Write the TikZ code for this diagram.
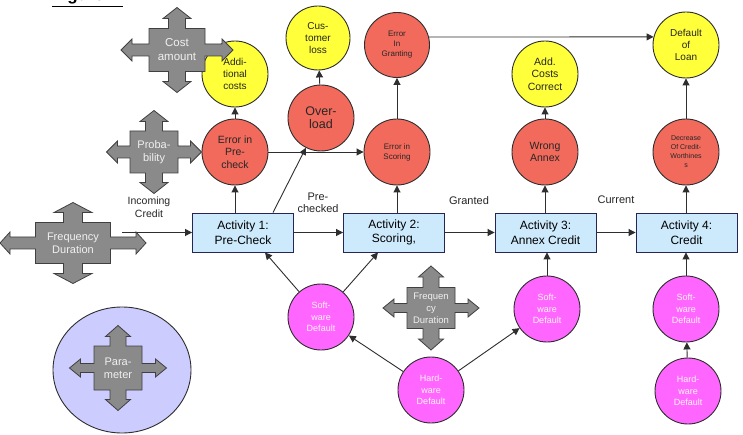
\documentclass[tikz,border=0pt]{standalone}
\usepackage{fontspec}
\setmainfont{Liberation Sans}
\usetikzlibrary{arrows.meta,shapes.geometric}
\definecolor{redc}{HTML}{F26A5C}
\definecolor{yelc}{HTML}{FFFF3A}
\definecolor{pinkc}{HTML}{FF66FF}
\definecolor{boxc}{HTML}{CDEAFC}
\definecolor{lavc}{HTML}{CCCCFF}
\definecolor{fwc}{HTML}{8A8A8A}
\definecolor{linec}{HTML}{2E2E2E}
\newcommand\fs[2]{\fontsize{#1}{#2}\selectfont}
% shaft / head half widths (vertical, horizontal) and head length
\def\fwsv{8.5}\def\fwhv{14}\def\fwsh{6}\def\fwhh{11}\def\fwhl{11}
\newcommand\fourway[9]{%
  \begin{scope}[shift={(#2,#3)}]
  \draw[fwshape] (0,-#7) -- (\fwhv,{-#7+\fwhl}) -- (\fwsv,{-#7+\fwhl}) -- (\fwsv,-#5) -- (#4,-#5) -- (#4,-\fwsh)
    -- ({#6-\fwhl},-\fwsh) -- ({#6-\fwhl},-\fwhh) -- (#6,0) -- ({#6-\fwhl},\fwhh) -- ({#6-\fwhl},\fwsh) -- (#4,\fwsh)
    -- (#4,#5) -- (\fwsv,#5) -- (\fwsv,{#7-\fwhl}) -- (\fwhv,{#7-\fwhl}) -- (0,#7) -- (-\fwhv,{#7-\fwhl})
    -- (-\fwsv,{#7-\fwhl}) -- (-\fwsv,#5) -- (-#4,#5) -- (-#4,\fwsh) -- ({-#6+\fwhl},\fwsh) -- ({-#6+\fwhl},\fwhh)
    -- (-#6,0) -- ({-#6+\fwhl},-\fwhh) -- ({-#6+\fwhl},-\fwsh) -- (-#4,-\fwsh) -- (-#4,-#5) -- (-\fwsv,-#5)
    -- (-\fwsv,{-#7+\fwhl}) -- (-\fwhv,{-#7+\fwhl}) -- cycle;
  \end{scope}
  \node[fwtext,font=#8] (#1) at (#2,#3) {#9};}
\begin{document}
\begin{tikzpicture}[x=1pt,y=-1pt,
  circ/.style={circle,draw=linec,line width=0.9pt,minimum size=66pt,inner sep=0pt,align=center,text=black!85},
  redn/.style={circ,fill=redc},
  yeln/.style={circ,fill=yelc},
  pinkn/.style={circ,fill=pinkc,text=white!85!pink,font=\fs{9}{11.7}},
  act/.style={draw=linec!80!blue,line width=0.9pt,fill=boxc,minimum width=101pt,minimum height=39pt,align=center,font=\fs{12}{14.5},inner sep=1pt},
  arr/.style={draw=linec,line width=0.9pt,-{Triangle[length=7pt,width=7pt]}},
  fwshape/.style={fill=fwc,draw=black!75,line width=0.8pt},
  fwtext/.style={align=center,text=white!88!gray,inner sep=0pt},
  lbl/.style={align=center,font=\fs{10.5}{12.5},text=black!85}]
\clip (0,0) rectangle (743,435);
\fill[white] (0,0) rectangle (743,435);
% title
\node[anchor=base west,inner sep=0pt,font=\fs{17}{20}\bfseries] (title) at (52,1) {\underline{Figure 2.}};
% activity boxes
\node[act] (act1) at (243,232.5) {Activity 1:\\Pre-Check};
\node[act] (act2) at (394,232.5) {Activity 2:\\Scoring,};
\node[act] (act3) at (545.5,232.5) {Activity 3:\\Annex Credit};
\node[act] (act4) at (686.5,232.5) {Activity 4:\\Credit};
% circles
\node[yeln,font=\fs{10}{12}] (addc) at (235,74) {Addi-\\tional\\costs};
\node[redn,font=\fs{10.5}{12.5}] (err1) at (235,152) {Error in\\Pre-\\check};
\node[redn,font=\fs{12.5}{13}] (over) at (321,118) {Over-\\load};
\node[yeln,font=\fs{10}{12},minimum size=64pt] (cust) at (318,38) {Cus-\\tomer\\loss};
\node[redn,font=\fs{8}{10},minimum size=65pt] (gran) at (397,45) {Error\\In\\Granting};
\node[redn,font=\fs{8}{10}] (scor) at (397,152) {Error in\\Scoring};
\node[yeln,font=\fs{10.5}{12.3}] (addcc) at (545,74) {Add.\\Costs\\Correct};
\node[redn,font=\fs{10.5}{12.3}] (wrong) at (545,152) {Wrong\\Annex};
\node[yeln,font=\fs{10}{12}] (loan) at (686,45) {Default\\of\\Loan};
\node[redn,font=\fs{7}{9}] (decr) at (686,152) {Decrease\\Of Credit-\\Worthines\\s};
\node[pinkn] (sw1) at (321,317) {Soft-\\ware\\Default};
\node[pinkn] (sw2) at (547,309) {Soft-\\ware\\Default};
\node[pinkn] (sw3) at (686,309) {Soft-\\ware\\Default};
\node[pinkn] (hw1) at (431,390) {Hard-\\ware\\Default};
\node[pinkn] (hw2) at (688,391) {Hard-\\ware\\Default};
% parameter ellipse
\node[ellipse,draw=linec,line width=0.9pt,fill=lavc,minimum width=138pt,minimum height=126pt,inner sep=0pt] (pell) at (122,370) {};
% labels
\node[lbl] (linc) at (149,207) {Incoming\\Credit};
\node[lbl,font=\fs{11}{12.5}] (lpre) at (318,203) {Pre-\\checked};
\node[lbl,font=\fs{11}{12.5}] (lgra) at (469,201) {Granted};
\node[lbl,font=\fs{11}{12.5}] (lcur) at (616,200) {Current};
% connectors
\coordinate (inc) at (122,232.5);
\draw[arr] (inc) -- (act1.west);
\draw[arr] (act1.east) -- (act2.west);
\draw[arr] (act2.east) -- (act3.west);
\draw[arr] (act3.east) -- (act4.west);
\draw[arr] (err1.south |- act1.north) -- (err1.south);
\draw[arr] (err1) -- (addc);
\draw[arr] ([xshift=30pt]act1.north) -- (over);
\draw[arr] (over) -- (cust);
\draw[arr] (err1.east) -- (scor.west);
\draw[arr] (scor.south |- act2.north) -- (scor.south);
\draw[arr] (scor) -- (gran);
\draw[arr] (gran.14) -- (loan.166);
\draw[arr] (wrong.south |- act3.north) -- (wrong.south);
\draw[arr] (wrong) -- (addcc);
\draw[arr] (decr.south |- act4.north) -- (decr.south);
\draw[arr] (decr) -- (loan);
\draw[arr] (sw1) -- ([xshift=22pt]act1.south);
\draw[arr] (sw1) -- ([xshift=-16pt]act2.south);
\draw[arr] (hw1) -- (sw1);
\draw[arr] (hw1) -- (sw2);
\draw[arr] (sw2.north) -- (sw2.north |- act3.south);
\draw[arr] (sw3.north) -- (sw3.north |- act4.south);
\draw[arr] (hw2) -- (sw3);
% four-way arrows
\fourway{fcost}{177}{50}{28}{21.5}{56}{42.5}{\fs{11.5}{14}}{Cost\\amount}
\fourway{fprob}{154}{152}{24}{21}{47.5}{41.5}{\fs{11}{13.5}}{Proba-\\bility}
\def\fwsv{8}\def\fwhv{12.5}\def\fwsh{4.5}\def\fwhh{9}
\fourway{ffreq2}{431}{308}{24}{20.5}{48}{42}{\fs{9.5}{12}}{Frequen\\cy\\Duration}
\fourway{fpar}{118}{368}{24}{22}{48.5}{42.5}{\fs{11}{13.3}}{Para-\\meter}
\def\fwsv{9.5}\def\fwhv{19}\def\fwsh{6}\def\fwhh{11}\def\fwhl{10}
\fourway{ffreq}{73}{243}{37.5}{20.5}{73}{40.5}{\fs{11}{13.3}}{Frequency\\Duration}
\end{tikzpicture}
\end{document}
